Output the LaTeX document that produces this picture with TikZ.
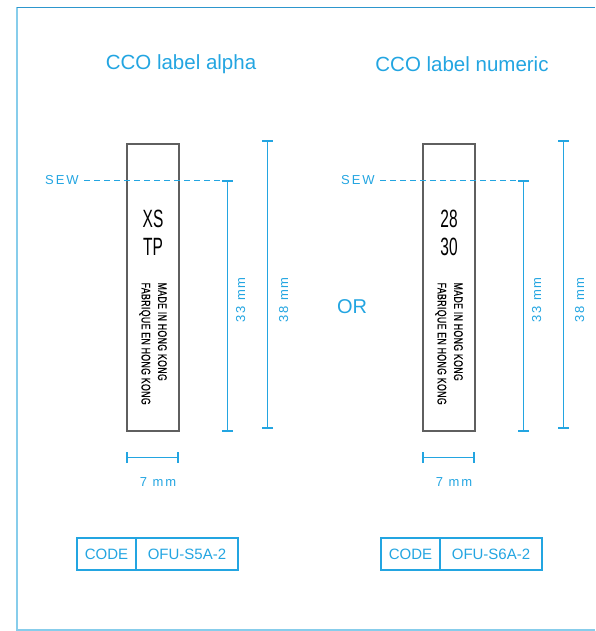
\documentclass[tikz,border=0pt]{standalone}
\usepackage{fontspec}
\setmainfont{Liberation Sans}
\newfontfamily\dimfont[LetterSpace=15]{Liberation Sans}
\newfontfamily\condfont[FakeStretch=0.7,LetterSpace=3,FakeBold=0.6]{Liberation Sans}
\newfontfamily\handfont[FakeStretch=0.62]{Liberation Sans}
\usetikzlibrary{positioning, calc, arrows.meta}
\definecolor{skyblue}{RGB}{35,165,225}
\definecolor{framelight}{RGB}{135,205,235}
\definecolor{framedark}{RGB}{45,150,205}
\definecolor{tagedge}{RGB}{95,95,95}
\tikzset{
every node/.style = {inner sep = 0pt},
heading/.style = {text = skyblue, font = \fontsize{20.5}{24}\selectfont},
tag/.style = {rectangle, draw = tagedge, line width = 1.2pt, minimum width = 52pt,
   minimum height = 287pt},
sizemark/.style = {align = center, font = \handfont\fontsize{25}{28}\selectfont},
madein/.style = {align = left, rotate = -90, font = \condfont\fontsize{12.5}{16.5}\selectfont},
dimline/.style = {draw = skyblue, line width = 1.7pt, {Bar[width = 11pt]}-{Bar[width = 11pt]}},
dimlabel/.style = {text = skyblue, font = \dimfont\fontsize{13}{15}\selectfont},
sewline/.style = {draw = skyblue, line width = 1.3pt, dash pattern = on 6pt off 4pt},
codecell/.style = {rectangle, draw = skyblue, line width = 1.2pt, outer sep = 0pt,
   minimum height = 32pt, text = skyblue, font = \fontsize{15}{18}\selectfont}
}
\begin{document}
\begin{tikzpicture}[x = 1pt, y = -1pt]
\useasboundingbox (0, 0) rectangle (595, 631);

%% Frame
\draw [framelight, line width = 1.5pt] (595, 630) -- (17, 630) -- (17, 7.5);
\draw [framedark, line width = 1.5pt] (17, 7.5) -- (595, 7.5);

%% The two labels
\foreach \i/\dx/\title/\tx/\sizes/\cx/\code in
   {1/0/CCO label alpha/181/XS\\TP/77/OFU-S5A-2,
    2/296/CCO label numeric/166/28\\30/85/OFU-S6A-2} {
   \begin{scope}[xshift = \dx]
   \node [heading] (title\i) at (\tx, 64) {\title};
   \node [tag] (tag\i) at (153, 287.5) {};
   \node [sizemark] (size\i) at ($(tag\i.north)+(0,89)$) {\sizes};
   \node [madein, anchor = west] (made\i) at ($(tag\i.north)+(0,139)$)
      {MADE IN HONG KONG\\FABRIQUE EN HONG KONG};

   %% Sew line and lengths
   \coordinate (sewstart\i) at ($(tag\i.north west)+(-42,37)$);
   \coordinate (sewend\i) at ($(tag\i.north east)+(48,37)$);
   \node [dimlabel] (sew\i) at ($(tag\i.north west)+(-64.5,37)$) {SEW};
   \path [sewline] (sewstart\i) -- (sewend\i);
   \coordinate (innerbot\i) at ($(tag\i.south east)+(48,0)$);
   \path [dimline] (sewend\i) -- (innerbot\i);
   \coordinate (outertop\i) at ($(tag\i.north east)+(88,-3)$);
   \coordinate (outerbot\i) at ($(tag\i.south east)+(88,-3)$);
   \path [dimline] (outertop\i) -- (outerbot\i);
   \node [dimlabel, rotate = 90] (inner\i) at ($(tag\i.east)+(61,12.5)$) {33 mm};
   \node [dimlabel, rotate = 90] (outer\i) at ($(tag\i.east)+(104,12.5)$) {38 mm};

   %% Width
   \coordinate (wl\i) at ($(tag\i.south west)+(-0.5,26)$);
   \coordinate (wr\i) at ($(tag\i.south east)+(-0.5,26)$);
   \path [dimline] (wl\i) -- (wr\i);
   \node [dimlabel] (width\i) at ($(tag\i.south)+(5,50)$) {7 mm};

   %% Code box
   \node [codecell, minimum width = 59pt, anchor = west] (codekey\i) at (\cx, 554) {CODE};
   \node [codecell, minimum width = 102pt, right = 0pt of codekey\i] (codeval\i) {\code};
   \end{scope}
}

\node [heading, font = \fontsize{20}{24}\selectfont] (or) at (352, 307) {OR};

\end{tikzpicture}
\end{document}
